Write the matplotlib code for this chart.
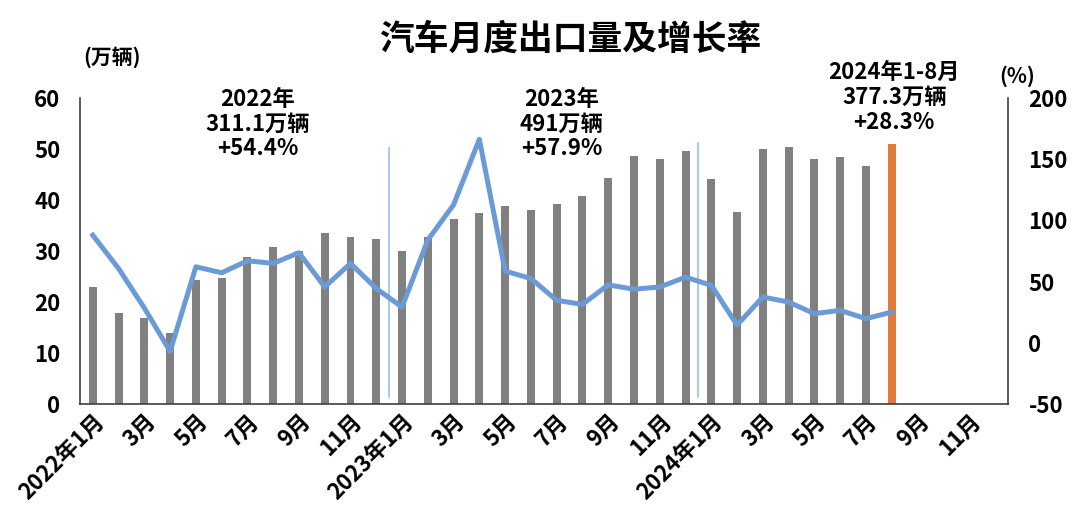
import numpy as np
import matplotlib.pyplot as plt

plt.rcParams['font.family'] = ['Noto Sans CJK SC', 'DejaVu Sans']
plt.rcParams['font.weight'] = 'bold'
plt.rcParams['axes.unicode_minus'] = False

# 月份标签（2022年1月 - 2024年12月）
months = []
for y in (2022, 2023, 2024):
    for m in range(1, 13):
        months.append(f'{y}年{m}月' if m == 1 else f'{m}月')

# 出口量（万辆），2022年1月 - 2024年8月
export_vol = [23.0, 17.9, 16.9, 14.0, 24.4, 24.8, 28.9, 30.7, 30.0, 33.6, 32.8, 32.3,
              30.0, 32.8, 36.3, 37.5, 38.8, 38.1, 39.2, 40.7, 44.3, 48.6, 48.0, 49.7,
              44.2, 37.6, 50.1, 50.3, 48.0, 48.4, 46.7, 50.9]
# 同比增长率（%）
growth = [87.9, 60.7, 28.4, -7.0, 62.1, 57.2, 67.0, 64.9, 73.6, 45.6, 64.9, 44.3,
          29.2, 84.0, 112.8, 166.3, 58.6, 52.5, 34.7, 31.4, 47.3, 43.8, 45.6, 53.6,
          47.0, 14.5, 37.4, 33.3, 23.8, 26.5, 19.7, 25.1]

notes = ['2022年\n311.1万辆\n+54.4%', '2023年\n491万辆\n+57.9%', '2024年1-8月\n377.3万辆\n+28.3%']

fig = plt.figure(figsize=(10.8, 5.17), dpi=100)
ax = fig.add_axes([0.074, 0.2186, 0.859, 0.5918])
ax2 = ax.twinx()

x = np.arange(len(months))
n = len(export_vol)
colors = ['#808080'] * (n - 1) + ['#E07B39']
ax.bar(x[:n], export_vol, width=0.31, color=colors)
ax2.plot(x[:n], growth, color='#6A9BD6', lw=3.6, solid_joinstyle='round')

ax.set_xlim(-0.5, len(months) - 0.5)
ax.set_ylim(0, 60)
ax.set_yticks(range(0, 61, 10))
ax2.set_ylim(-50, 200)
ax2.set_yticks(range(-50, 201, 50))

ax.set_xticks(x[::2])
ax.set_xticklabels(months[::2], rotation=45, ha='right', rotation_mode='anchor')

for a in (ax, ax2):
    a.tick_params(length=0, labelsize=16)
    for s in a.spines.values():
        s.set_visible(False)
ax.spines['left'].set_visible(True)
ax.spines['bottom'].set_visible(True)
ax2.spines['right'].set_visible(True)
for s in (ax.spines['left'], ax.spines['bottom'], ax2.spines['right']):
    s.set_color('#404040')
    s.set_linewidth(1.2)
ax.tick_params(axis='y', pad=14)
ax2.tick_params(axis='y', pad=15)
ax.tick_params(axis='x', pad=4)

# 年度分隔线
for xs in (11.5, 23.5):
    ax.plot([xs, xs], [1.3, 50.2 if xs < 12 else 51.2], color='#9DBFE6', lw=1.2)

ax.text(6.4, 62.0, notes[0], ha='center', va='top', fontsize=16, linespacing=1.1)
ax.text(18.2, 62.0, notes[1], ha='center', va='top', fontsize=16, linespacing=1.1)
ax.text(31.1, 67.2, notes[2], ha='center', va='top', fontsize=16, linespacing=1.1, clip_on=False)

fig.text(0.104, 0.89, '(万辆)', ha='center', va='center', fontsize=15)
fig.text(0.942, 0.853, '(%)', ha='center', va='center', fontsize=15)
fig.text(0.528, 0.925, '汽车月度出口量及增长率', ha='center', va='center', fontsize=25)

fig.savefig('out.png', dpi=100)
